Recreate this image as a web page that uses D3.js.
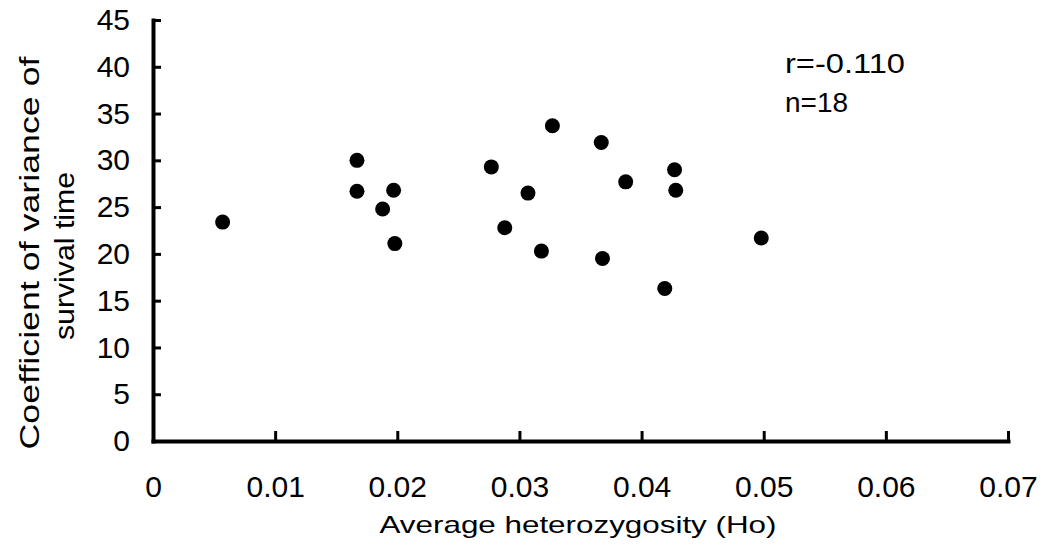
<!DOCTYPE html>
<html>
<head>
<meta charset="utf-8">
<script src="https://cdn.jsdelivr.net/npm/d3@7"></script>
<style>
    body { margin: 0; background: #fff; }
    svg { display: block; font-family: "Liberation Sans", Arial, sans-serif; }
</style>
</head>
<body>
<div id="chart"></div>
<script>
// heterozygosity (Ho) of each population
const heterozygosity = [0.0057, 0.0167, 0.0167, 0.0197, 0.0188, 0.0198, 0.0277, 0.0307, 0.0288,
    0.0318, 0.0327, 0.0367, 0.0427, 0.0387, 0.0428, 0.0368, 0.0419, 0.0498];
// coefficient of variance of survival time
const survivalCV = [23.4, 30.0, 26.7, 26.8, 24.8, 21.1, 29.3, 26.5, 22.8,
    20.3, 33.7, 31.9, 29.0, 27.7, 26.8, 19.5, 16.3, 21.7];

const xTicks = [0, 0.01, 0.02, 0.03, 0.04, 0.05, 0.06, 0.07];
const xTickLabels = ["0", "0.01", "0.02", "0.03", "0.04", "0.05", "0.06", "0.07"];
const yTicks = [0, 5, 10, 15, 20, 25, 30, 35, 40, 45];
const statLines = ["r=-0.110", "n=18"];

const width = 1045, height = 546;

const svg = d3.select("#chart").append("svg")
    .attr("width", width)
    .attr("height", height);

const x = d3.scaleLinear()
    .domain([0, 0.07])
    .range([153, 1008]);

const y = d3.scaleLinear()
    .domain([0, 45])
    .range([441, 20]);

// x axis, ticks pointing up into the plot
const xAxis = svg.append("g")
    .attr("transform", "translate(0," + y(0) + ")")
    .call(d3.axisBottom(x)
        .tickValues(xTicks)
        .tickFormat((d, i) => xTickLabels[i])
        .tickSizeInner(-10)
        .tickSizeOuter(0)
        .tickPadding(35));

// y axis, ticks pointing right
const yAxis = svg.append("g")
    .attr("transform", "translate(" + x(0) + ",0)")
    .call(d3.axisLeft(y)
        .tickValues(yTicks)
        .tickSizeInner(-8)
        .tickSizeOuter(0)
        .tickPadding(23));

[xAxis, yAxis].forEach(axis => {
    axis.select(".domain")
        .attr("stroke", "#000")
        .attr("stroke-width", 4)
        .attr("stroke-linecap", "square");
    axis.selectAll(".tick line")
        .attr("stroke", "#000")
        .attr("stroke-width", 3);
    axis.selectAll(".tick text")
        .attr("fill", "#000")
        .style("font-size", "30px")
        .style("font-family", "'Liberation Sans', Arial, sans-serif");
});

// points
svg.append("g")
    .selectAll("circle")
    .data(heterozygosity.map((h, i) => ({ h: h, cv: survivalCV[i] })))
    .enter().append("circle")
    .attr("cx", d => x(d.h))
    .attr("cy", d => y(d.cv))
    .attr("r", 7.5)
    .attr("fill", "#000");

// correlation note
svg.append("text")
    .attr("x", 785)
    .attr("y", 73)
    .attr("textLength", 120)
    .attr("lengthAdjust", "spacingAndGlyphs")
    .style("font-size", "28px")
    .text(statLines[0]);

svg.append("text")
    .attr("x", 785)
    .attr("y", 112)
    .style("font-size", "28px")
    .text(statLines[1]);

// axis titles
svg.append("text")
    .attr("x", 578)
    .attr("y", 533)
    .attr("text-anchor", "middle")
    .attr("textLength", 397)
    .attr("lengthAdjust", "spacingAndGlyphs")
    .style("font-size", "24px")
    .text("Average heterozygosity (Ho)");

svg.append("text")
    .attr("transform", "rotate(-90)")
    .attr("x", -253)
    .attr("y", 39)
    .attr("text-anchor", "middle")
    .attr("textLength", 393)
    .attr("lengthAdjust", "spacingAndGlyphs")
    .style("font-size", "27px")
    .text("Coefficient of variance of");

svg.append("text")
    .attr("transform", "rotate(-90)")
    .attr("x", -256)
    .attr("y", 74)
    .attr("text-anchor", "middle")
    .attr("textLength", 168)
    .attr("lengthAdjust", "spacingAndGlyphs")
    .style("font-size", "27px")
    .text("survival time");
</script>
</body>
</html>
